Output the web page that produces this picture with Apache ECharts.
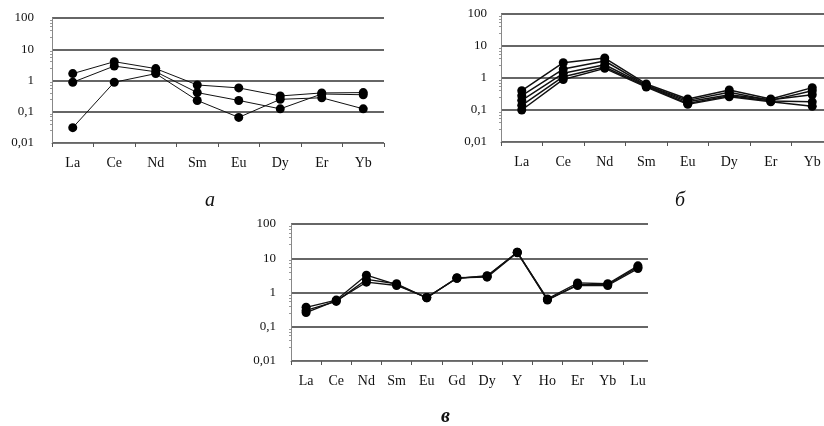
<!DOCTYPE html>
<html>
<head>
<meta charset="utf-8">
<script src="https://cdn.jsdelivr.net/npm/echarts@6/dist/echarts.min.js"></script>
<style>
  html, body { margin: 0; padding: 0; background: #fff; }
  #chart { width: 824px; height: 426px; }
</style>
</head>
<body>
<div id="chart"></div>
<script>
// категории элементов
const catsA = ['La', 'Ce', 'Nd', 'Sm', 'Eu', 'Dy', 'Er', 'Yb']
const catsB = ['La', 'Ce', 'Nd', 'Sm', 'Eu', 'Dy', 'Er', 'Yb']
const catsC = ['La', 'Ce', 'Nd', 'Sm', 'Eu', 'Gd', 'Dy', 'Y', 'Ho', 'Er', 'Yb', 'Lu']

// панель а
const a1 = [1.66, 4.0, 2.4, 0.72, 0.58, 0.32, 0.40, 0.41]
const a2 = [0.88, 2.9, 1.9, 0.41, 0.23, 0.124, 0.37, 0.35]
const a3 = [0.031, 0.88, 1.66, 0.23, 0.066, 0.25, 0.28, 0.124]

// панель б
const b1 = [0.40, 3.0, 4.2, 0.65, 0.22, 0.42, 0.22, 0.50]
const b2 = [0.28, 1.9, 3.4, 0.60, 0.20, 0.36, 0.20, 0.40]
const b3 = [0.20, 1.4, 2.6, 0.58, 0.18, 0.30, 0.21, 0.30]
const b4 = [0.14, 1.1, 2.2, 0.55, 0.16, 0.28, 0.19, 0.18]
const b5 = [0.10, 0.9, 2.0, 0.52, 0.15, 0.26, 0.18, 0.13]

// панель в
const c1 = [0.37, 0.60, 3.2, 1.7, 0.70, 2.6, 3.0, 15.0, 0.65, 1.9, 1.8, 6.0]
const c2 = [0.30, 0.55, 2.4, 1.8, 0.70, 2.7, 2.8, 14.5, 0.60, 1.7, 1.7, 5.5]
const c3 = [0.26, 0.58, 2.0, 1.6, 0.72, 2.6, 3.1, 15.0, 0.62, 1.6, 1.6, 5.0]

const yTickLabels = ['0,01', '0,1', '1', '10', '100']
const panelLabels = ['а', 'б', 'в']

const font = '"Liberation Serif", "DejaVu Serif", serif'

const chart = echarts.init(document.getElementById('chart'), null, { renderer: 'canvas' })

// outerBoundsMode: 'none' — панель б выходит за правый край, как на исходнике
const grids = [
  { left: 52, top: 18, width: 332, height: 125, outerBoundsMode: 'none' },
  { left: 501, top: 14, width: 332, height: 128, outerBoundsMode: 'none' },
  { left: 291, top: 224, width: 362, height: 137, outerBoundsMode: 'none' }
]

const makeX = (cats, gi) => ({
  type: 'category',
  gridIndex: gi,
  data: cats,
  boundaryGap: true,
  axisLine: { lineStyle: { color: '#777', width: 1 } },
  axisTick: { show: true, length: 4, lineStyle: { color: '#555' } },
  axisLabel: { color: '#111', fontFamily: font, fontSize: 14, margin: 13 }
})

const makeY = (gi, margin) => ({
  type: 'log',
  logBase: 10,
  gridIndex: gi,
  min: 0.01,
  max: 100,
  axisLine: { show: true, lineStyle: { color: '#888', width: 1 } },
  axisTick: { show: false },
  minorTick: { show: true, splitNumber: 6, length: 2, lineStyle: { color: '#999' } },
  splitLine: { show: true, lineStyle: { color: '#333', width: 1.6 } },
  axisLabel: {
    color: '#111', fontFamily: font, fontSize: 13, margin: margin,
    formatter: v => yTickLabels[Math.round(Math.log10(v)) + 2]
  }
})

const makeSeries = (data, gi, width) => ({
  type: 'line',
  xAxisIndex: gi,
  yAxisIndex: gi,
  data: data,
  symbol: 'circle',
  symbolSize: 9,
  itemStyle: { color: '#000' },
  lineStyle: { color: '#111', width: width || 1 },
  emphasis: { disabled: true },
  animation: false
})

const option = {
  backgroundColor: '#fff',
  animation: false,
  title: panelLabels.map((t, i) => ({
    text: t,
    left: [200, 670, 436][i],
    top: [186, 186, 402][i],
    textStyle: { fontFamily: font, fontStyle: 'italic', fontSize: 20, fontWeight: i === 2 ? 'bold' : 'normal', color: '#111' }
  })),
  grid: grids,
  xAxis: [makeX(catsA, 0), makeX(catsB, 1), makeX(catsC, 2)],
  yAxis: [makeY(0, 18), makeY(1, 14), makeY(2, 15)],
  series: [
    makeSeries(a1, 0), makeSeries(a2, 0), makeSeries(a3, 0),
    makeSeries(b1, 1, 1.5), makeSeries(b2, 1, 1.5), makeSeries(b3, 1, 1.5),
    makeSeries(b4, 1, 1.5), makeSeries(b5, 1, 1.5),
    makeSeries(c1, 2, 1.3), makeSeries(c2, 2, 1.3), makeSeries(c3, 2, 1.3)
  ],
  graphic: [
    // обрезка правого края панели в, как на исходнике
    { type: 'rect', left: 648, top: 215, shape: { width: 20, height: 160 }, style: { fill: '#fff' }, z: 100 }
  ]
}

chart.setOption(option)
</script>
</body>
</html>
